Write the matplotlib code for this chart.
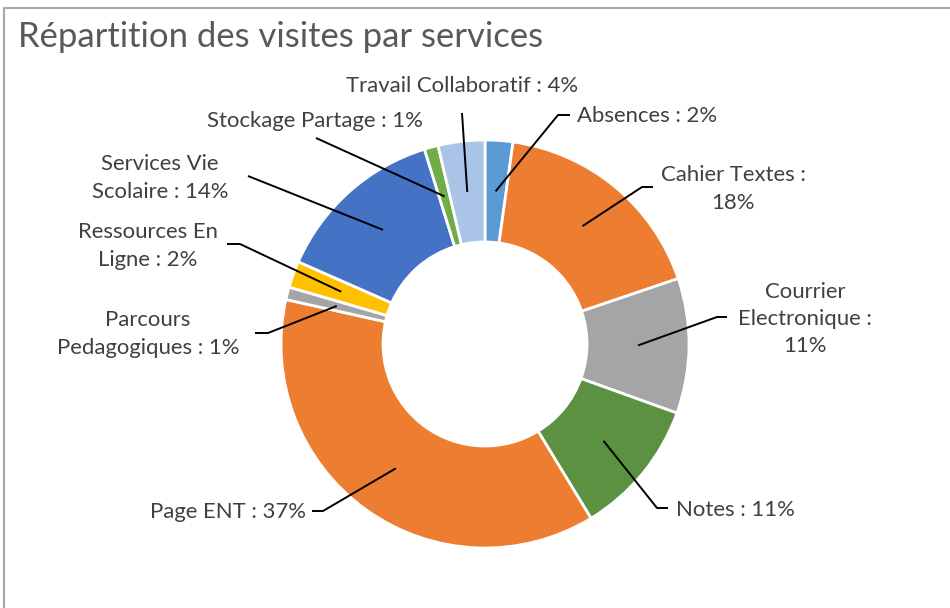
import numpy as np
import matplotlib.pyplot as plt

# Data (share of visits, %)
services = ["Absences", "Cahier Textes", "Courrier Electronique", "Notes",
            "Page ENT", "Parcours Pedagogiques", "Ressources En Ligne",
            "Services Vie Scolaire", "Stockage Partage", "Travail Collaboratif"]
visites = [2.2, 17.6, 10.7, 10.8, 37.2, 1.0, 2.1, 13.6, 1.1, 3.7]
# label text as wrapped in the chart
label_txt = ["Absences", "Cahier Textes :\n", "Courrier\nElectronique :\n", "Notes",
             "Page ENT", "Parcours\nPedagogiques", "Ressources En\nLigne",
             "Services Vie\nScolaire", "Stockage Partage", "Travail Collaboratif"]
couleurs = ["#5B9BD5", "#ED7D31", "#A5A5A5", "#5B9140", "#ED7D31",
            "#A5A5A5", "#FFC000", "#4472C4", "#70AD47", "#A9C4E6"]

H = 608
plt.rcParams['font.family'] = ['Lato', 'DejaVu Sans']

fig = plt.figure(figsize=(9.5, 6.08), dpi=100)
ax = fig.add_axes([0, 0, 1, 1])

cx, cy, R, w = 485, H - 344, 204, 102
wedges, _ = ax.pie(visites, colors=couleurs, startangle=90, counterclock=False,
                   radius=R, center=(cx, cy),
                   wedgeprops=dict(width=w, edgecolor='white', linewidth=2))
ax.set_xlim(0, 950)
ax.set_ylim(0, H)
ax.set_aspect('equal')
ax.axis('off')

# label placement (pixel coords, y down): text centre, then leader points near the label
places = [
    ((647, 116), [(570, 115), (558, 115)]),
    ((733, 189), [(653, 187), (642, 187)]),
    ((805, 319), [(727, 317), (717, 317)]),
    ((735, 510), [(668, 508), (657, 508)]),
    ((228, 512), [(312, 511), (323, 511)]),
    ((148, 334), [(255, 333), (268, 333)]),
    ((148, 246), [(227, 244), (240, 244)]),
    ((160, 178), [(248, 176)]),
    ((315, 121), [(316, 138)]),
    ((462, 86), [(462, 113)]),
]

rmid = R - w / 2
for wd, txt, v, (pos, pts) in zip(wedges, label_txt, visites, places):
    ang = np.deg2rad((wd.theta1 + wd.theta2) / 2)
    ax_x = cx + rmid * np.cos(ang)
    ax_y = cy + rmid * np.sin(ang)
    if txt.endswith("\n"):
        s = txt + "%d%%" % round(v)
    else:
        s = txt + " : %d%%" % round(v)
    ax.text(pos[0], H - pos[1], s, ha='center', va='center', fontsize=15.9,
            color='#404040', linespacing=1.46, multialignment='center')
    xs = [p[0] for p in pts] + [ax_x]
    ys = [H - p[1] for p in pts] + [ax_y]
    ax.plot(xs, ys, color='black', lw=1.4, solid_capstyle='butt')

ax.text(18, H - 37, "Répartition des visites par services", ha='left', va='center',
        fontsize=24.9, color='#595959')

# chart area border
ax.plot([4, 4, 950], [0, H - 8, H - 8], color='#A6A6A6', lw=1.5)

fig.savefig("out.png", dpi=100)
